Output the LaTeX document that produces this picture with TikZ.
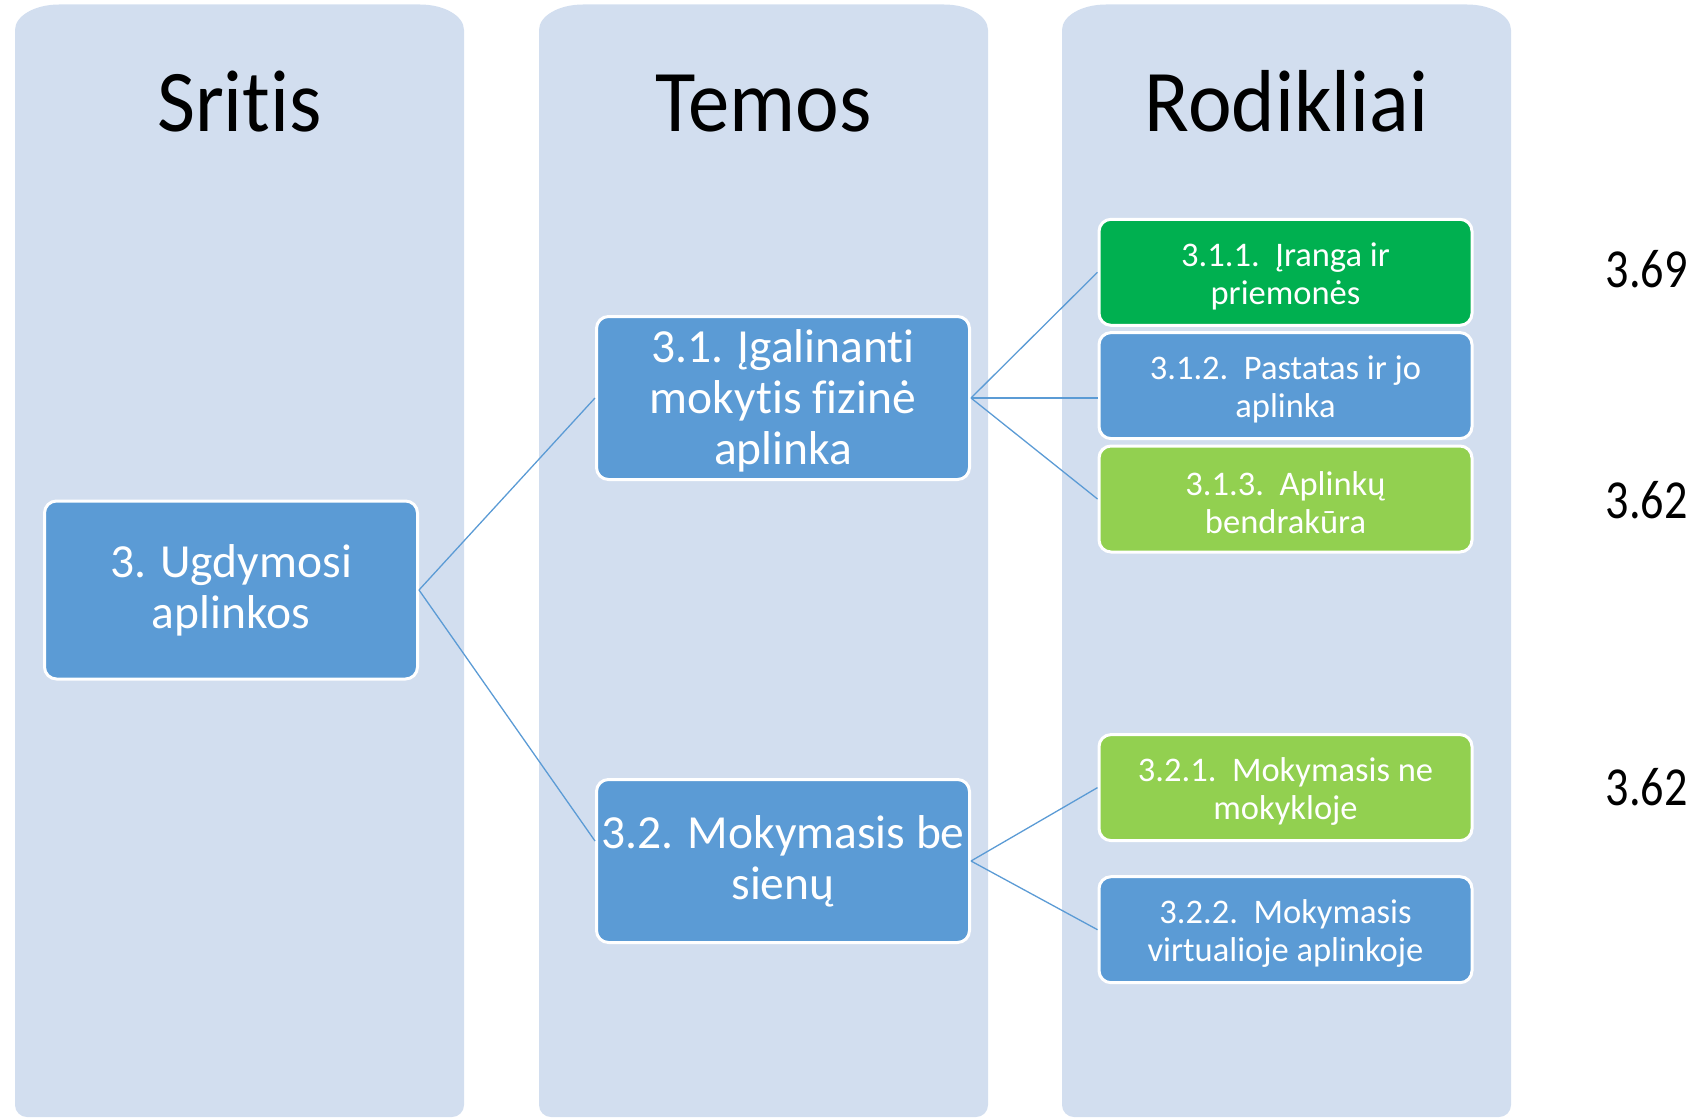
\documentclass[tikz,border=0pt]{standalone}
\usepackage{fontspec}
\setmainfont{Carlito}[Ligatures=NoCommon]
\usepackage{graphicx}
\definecolor{colbg}{HTML}{D2DEEF}
\definecolor{boxblue}{HTML}{5B9BD5}
\definecolor{boxgreen}{HTML}{00B050}
\definecolor{boxlime}{HTML}{92D050}
\definecolor{linkblue}{HTML}{5B9BD5}
\newcommand{\lowerstrut}{\rule{0pt}{15.5pt}}
\newcommand{\bigstrut}{\rule{0pt}{19.5pt}}
\begin{document}
\begin{tikzpicture}[x=0.5pt,y=-0.5pt,
  hdr/.style={anchor=base, font=\fontsize{44}{50}\selectfont, text=black, inner sep=0pt},
  box/.style={draw=white, line width=1.5pt, rounded corners=6pt, text=white, align=center, minimum width=186.5pt, inner sep=0pt},
  bigbox/.style={box, fill=boxblue, font=\fontsize{23.75}{25.5}\selectfont},
  smallbox/.style={box, minimum height=53pt, font=\fontsize{17.25}{19}\selectfont},
  link/.style={draw=linkblue, line width=0.65pt},
  score/.style={anchor=base east, font=\fontsize{27.5}{30}\selectfont, inner sep=0pt, text=black}
]
\useasboundingbox (0,0) rectangle (1701,1118);
% column backgrounds
\foreach \xa in {15,539,1062}{
  \fill[colbg] (\xa,1105) -- (\xa,30) arc[start angle=180,end angle=90,x radius=22pt,y radius=12.75pt]
    -- (\xa+405,4.5) arc[start angle=90,end angle=0,x radius=22pt,y radius=12.75pt]
    -- (\xa+449,1105) arc[start angle=0,end angle=-90,radius=6pt]
    -- (\xa+12,1117) arc[start angle=-90,end angle=-180,radius=6pt] -- cycle;
}
% headers
\node[hdr] (h1) at (239.5,132) {\scalebox{0.94}[1]{Sritis}};
\node[hdr] (h2) at (763.5,132) {\scalebox{0.94}[1]{Temos}};
\node[hdr] (h3) at (1286.5,132) {\scalebox{0.94}[1]{Rodikliai}};
% boxes
\node[bigbox, minimum height=89pt] (root) at (231,590) {3. Ugdymosi\\aplinkos};
\node[bigbox, minimum height=81.5pt] (t1) at (783,398) {\bigstrut 3.1. Įgalinanti\\mokytis fizinė\\aplinka};
\node[bigbox, minimum height=81.5pt] (t2) at (783,861) {3.2. Mokymasis be\\sienų};
\node[smallbox, fill=boxgreen] (r1) at (1285.5,272.3) {\lowerstrut 3.1.1.~~Įranga ir\\priemonės};
\node[smallbox, fill=boxblue] (r2) at (1285.5,385.6) {\lowerstrut 3.1.2.~~Pastatas ir jo\\aplinka};
\node[smallbox, fill=boxlime] (r3) at (1285.5,499) {\lowerstrut 3.1.3.~~Aplinkų\\bendrakūra};
\node[smallbox, fill=boxlime] (r4) at (1285.5,787.6) {\lowerstrut 3.2.1.~~Mokymasis ne\\mokykloje};
\node[smallbox, fill=boxblue] (r5) at (1285.5,929.7) {\lowerstrut 3.2.2.~~Mokymasis\\virtualioje aplinkoje};
% connectors
\draw[link] (root.east) -- (t1.west);
\draw[link] (root.east) -- ([yshift=10pt]t2.west);
\draw[link] (t1.east) -- (r1.west);
\draw[link] (t1.east) -- (t1.east -| r2.west);
\draw[link] (t1.east) -- (r3.west);
\draw[link] (t2.east) -- (r4.west);
\draw[link] (t2.east) -- (r5.west);
% scores
\node[score] (s1) at (1688,287.5) {\scalebox{0.84}[1]{3.69}};
\node[score] (s2) at (1688,518.5) {\scalebox{0.84}[1]{3.62}};
\node[score] (s3) at (1688,805) {\scalebox{0.84}[1]{3.62}};
\end{tikzpicture}
\end{document}
